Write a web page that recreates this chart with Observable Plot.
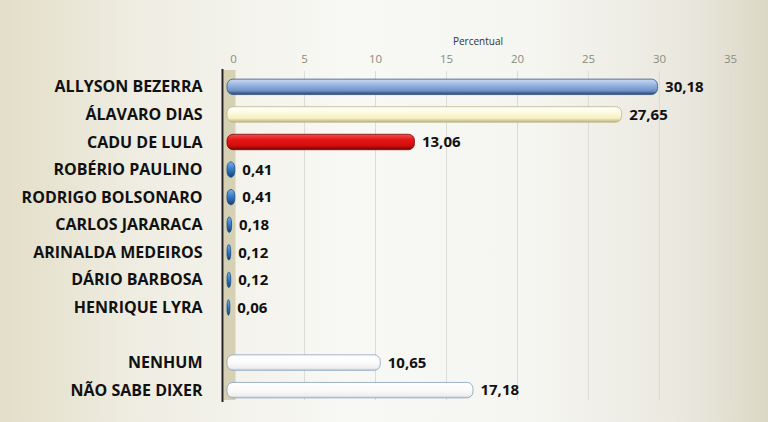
<!DOCTYPE html>
<html>
<head>
<meta charset="utf-8">
<script src="https://cdn.jsdelivr.net/npm/d3@7"></script>
<script src="https://cdn.jsdelivr.net/npm/@observablehq/plot@0.6"></script>
<style>
  html, body { margin: 0; padding: 0; }
  body {
    width: 768px; height: 422px; overflow: hidden;
    background: linear-gradient(to right, #e2dec8 0%, #efede2 18%, #f8f8f5 45%, #f5f5f1 70%, #e9e7dd 90%, #dcd8c6 100%);
    font-family: "Open Sans", Lato, sans-serif;
  }
  #chart svg { display: block; background: transparent; }
</style>
</head>
<body>
<div id="chart"></div>
<script>
// Data
const categories = ["ALLYSON BEZERRA", "ÁLAVARO DIAS", "CADU DE LULA", "ROBÉRIO PAULINO", "RODRIGO BOLSONARO", "CARLOS JARARACA", "ARINALDA MEDEIROS", "DÁRIO BARBOSA", "HENRIQUE LYRA", "NENHUM", "NÃO SABE DIXER"];
const values = [30.18, 27.65, 13.06, 0.41, 0.41, 0.18, 0.12, 0.12, 0.06, 10.65, 17.18];
const barGroup = ["blue", "cream", "red", "dark", "dark", "dark", "dark", "dark", "dark", "white", "white"];
const rowOrder = ["ALLYSON BEZERRA", "ÁLAVARO DIAS", "CADU DE LULA", "ROBÉRIO PAULINO", "RODRIGO BOLSONARO", "CARLOS JARARACA", "ARINALDA MEDEIROS", "DÁRIO BARBOSA", "HENRIQUE LYRA", " ", "NENHUM", "NÃO SABE DIXER"];
const xTicks = [0, 5, 10, 15, 20, 25, 30, 35];
const axisTitle = "Percentual";

// Styles for each group
const gradients = {
  blue:  [["0%", "#c9dbf3"], ["35%", "#9bb8e2"], ["75%", "#6f92c8"], ["100%", "#25426f"]],
  cream: [["0%", "#ffffff"], ["35%", "#fefbe2"], ["75%", "#f6efc0"], ["100%", "#bdb382"]],
  red:   [["0%", "#f25050"], ["35%", "#e51616"], ["75%", "#d20c0c"], ["100%", "#6e0505"]],
  dark:  [["0%", "#7fb0e8"], ["40%", "#3b82d0"], ["100%", "#173f73"]],
  white: [["0%", "#ffffff"], ["50%", "#fbfbfb"], ["85%", "#eeeeee"], ["100%", "#c9cfd6"]]
};
const outline = { blue: "#3a5683", cream: "#bcb48c", red: "#7a0808", dark: "#1b4c86", white: "#86a0be" };

const data = categories.map((c, i) => ({ name: c, value: values[i], group: barGroup[i] }));
const fmt = v => v.toFixed(2).replace(".", ",");

const chart = Plot.plot({
  width: 768,
  height: 422,
  marginLeft: 229,
  marginRight: 42,
  marginTop: 67,
  marginBottom: 12,
  style: { fontFamily: "'Open Sans', Lato, sans-serif", background: "transparent" },
  x: { domain: [0, 35], axis: null },
  y: { domain: rowOrder, padding: 0.44, round: false, axis: null },
  color: { type: "identity" },
  marks: [
    Plot.gridX(xTicks.filter(t => t > 0), { stroke: "#dcdcd6", strokeOpacity: 1, strokeWidth: 1, dx: 4, insetTop: 4, insetBottom: 10 }),
    Plot.axisX({
      anchor: "top", ticks: xTicks, tickSize: 0, tickPadding: 5, dx: 4,
      fontSize: 11.5, fill: "#8b8b80",
      label: axisTitle, labelAnchor: "center", labelOffset: 30, labelArrow: "none"
    }),
    Plot.ruleX([0], { stroke: "#d6d1b4", strokeWidth: 12, dx: 0, insetTop: 3, insetBottom: 10 }),
    Plot.ruleX([0], { stroke: "#222", strokeWidth: 2, dx: -7, insetTop: 2, insetBottom: 8 }),
    Plot.axisY({
      tickSize: 0, tickPadding: 27, fontSize: 16, fontWeight: "bold", fill: "#111",
      label: null
    }),
    Plot.barX(data, {
      x: "value", y: "name",
      fill: d => `url(#grad-${d.group})`,
      stroke: d => outline[d.group],
      strokeWidth: 0.8,
      insetLeft: -2,
      rx: 6
    }),
    Plot.text(data, {
      x: "value", y: "name", text: d => fmt(d.value),
      textAnchor: "start", dx: 7, fontSize: 15, fontWeight: "bold", fill: "#111"
    })
  ]
});

// gradient definitions for the cylinder look
const defs = d3.select(chart).insert("defs", ":first-child");
for (const [key, stops] of Object.entries(gradients)) {
  const g = defs.append("linearGradient").attr("id", `grad-${key}`)
    .attr("x1", 0).attr("y1", 0).attr("x2", 0).attr("y2", 1);
  for (const [off, col] of stops) g.append("stop").attr("offset", off).attr("stop-color", col);
}

// Axis title styling
d3.select(chart).selectAll("[aria-label='x-axis label'] text, g[aria-label='x-axis label']")
  .attr("fill", "#333").style("font-size", "10px");

document.getElementById("chart").appendChild(chart);
</script>
</body>
</html>
